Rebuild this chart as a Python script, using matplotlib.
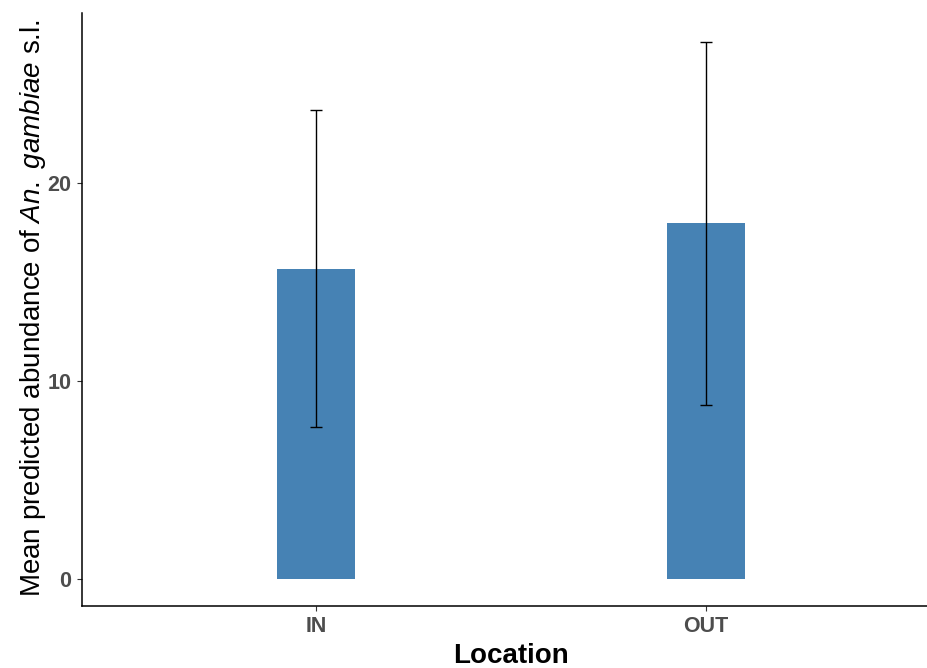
import matplotlib
matplotlib.use('Agg')
import matplotlib.pyplot as plt

locations = ['IN', 'OUT']
mean_abund = [15.67, 17.96]
ci_low = [7.70, 8.78]
ci_high = [23.69, 27.12]
y_ticks = [0, 10, 20]

plt.rcParams['font.family'] = ['Liberation Sans', 'DejaVu Sans']
plt.rcParams['mathtext.fontset'] = 'custom'
plt.rcParams['mathtext.rm'] = 'Liberation Sans'
plt.rcParams['mathtext.it'] = 'Liberation Sans:italic'

fig = plt.figure(figsize=(9.27, 6.68), dpi=100)
ax = fig.add_axes([82 / 927, 62 / 668, 1 - 82 / 927, 593 / 668])

x = [1, 2]
err = [[m - lo for m, lo in zip(mean_abund, ci_low)],
       [hi - m for m, hi in zip(mean_abund, ci_high)]]
ax.bar(x, mean_abund, width=0.2, color='#4682B4')
ax.errorbar(x, mean_abund, yerr=err, fmt='none', ecolor='black',
            elinewidth=1.0, capsize=4.6, capthick=1.0)

ax.set_xlim(0.4, 2.567)
ax.set_ylim(-1.36, 28.58)
ax.set_xticks(x)
ax.set_xticklabels(locations)
ax.set_yticks(y_ticks)

for s in ['top', 'right']:
    ax.spines[s].set_visible(False)
for s in ['left', 'bottom']:
    ax.spines[s].set_linewidth(1.1)
    ax.spines[s].set_color('black')

ax.tick_params(axis='both', length=3.5, width=0.8, color='#333333',
               labelsize=15.5, labelcolor='#4D4D4D')
ax.tick_params(axis='y', pad=4)
ax.tick_params(axis='x', pad=4)
for lab in ax.get_xticklabels() + ax.get_yticklabels():
    lab.set_fontweight('bold')

ax.set_xlabel('Location', fontsize=20, fontweight='bold')
ax.xaxis.set_label_coords(0.508, -0.084)
ax.xaxis.label.set_va('center')
ax.set_ylabel('Mean predicted abundance of $\\mathit{An.}$ $\\mathit{gambiae}$ s.l.',
              fontsize=20)
ax.yaxis.set_label_coords(-0.058, 0.503)
ax.yaxis.label.set_va('center')

fig.savefig('out.png', dpi=100)
